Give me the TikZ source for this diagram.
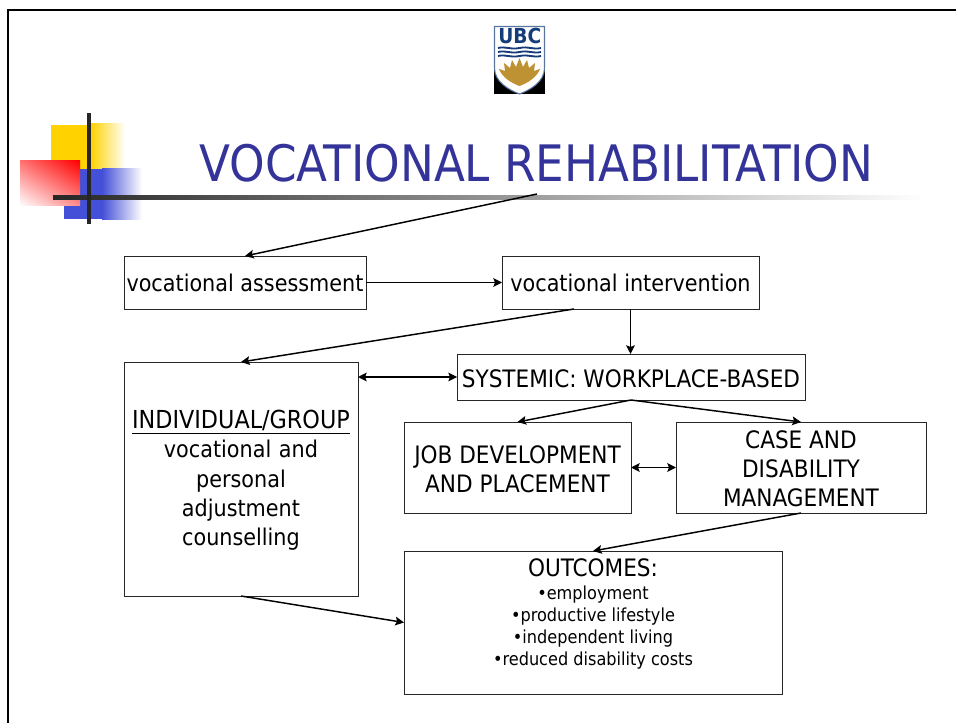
\documentclass[tikz,border=0pt]{standalone}
\usepackage{fontspec}
\setmainfont{DejaVu Sans Condensed}
\usepackage{xcolor}
\usetikzlibrary{arrows.meta,shadings}
\usetikzlibrary{positioning,calc}
\definecolor{titleblue}{RGB}{51,51,153}
\definecolor{decoyellow}{RGB}{255,210,0}
\definecolor{decoblue}{RGB}{68,80,216}
\definecolor{ubcblue}{RGB}{20,60,120}
\definecolor{ubcgold}{RGB}{190,145,50}
\newcommand{\capstrut}{\rule{0pt}{15.6pt}}

\begin{document}
\begin{tikzpicture}[
    x=.75pt,y=-.75pt,
    every node/.style = {outer sep=0pt,inner sep=0pt},
    box/.style = {draw=black!85,line width=.65pt,align=center,font=\fontsize{17.3}{21.6}\selectfont},
    capsbox/.style = {box,font=\fontsize{18}{21.6}\selectfont},
    link/.style = {-{Stealth[length=6.5pt,width=6.5pt,inset=1.2pt]},line width=1.1pt},
    twoway/.style = {{Stealth[length=6.5pt,width=6.5pt,inset=1.2pt]}-{Stealth[length=6.5pt,width=6.5pt,inset=1.2pt]},line width=1.1pt},
    smalltext/.style = {font=\fontsize{13.45}{16.5}\selectfont,align=center},
    ]
    \useasboundingbox (0,0) rectangle (956,723);
    % slide edge
    \draw[line width=1.5pt] (8,723) -- (8,10) -- (956,10);
    % corner squares
    \fill[decoyellow] (51,125) rectangle (91,170);
    \shade[left color=decoyellow,right color=white] (91,124) rectangle (125,170);
    \fill[decoblue] (64,169) rectangle (103,219);
    \shade[left color=decoblue,right color=white] (102,169) rectangle (142,220);
    \shade[shading=bilinear interpolation,lower left=white,upper right=red,lower right=red!45,upper left=red!55] (20,206) rectangle (80,161);
    \shade[left color=black!85,right color=white] (53,196) rectangle (925,200);
    \fill[black!85] (87,113) rectangle (91,224);
    % logo
    \fill[black] (494,70) rectangle (545,94);
    \draw[draw=ubcblue!70,fill=white,line width=.8pt] (494.5,26.5) -- (544.5,26.5) -- (544.5,68)
        .. controls (544.5,82) and (530,90) .. (519.5,94)
        .. controls (509,90) and (494.5,82) .. (494.5,68) -- cycle;
    \node (logotext) at (519.8,36) [text=ubcblue,font=\bfseries\fontsize{15.5}{15.5}\selectfont] {UBC};
    \foreach \wave in {48,52,56}
        \draw[ubcblue,line width=1.4pt] (498,\wave) .. controls (506,\wave-2) and (510,\wave+2) .. (519.5,\wave)
            .. controls (529,\wave-2) and (533,\wave+2) .. (541,\wave);
    \fill[ubcgold] (499,69) -- (505,71) -- (504,63) -- (510,68) -- (512,60) -- (516,67) -- (519.5,58)
        -- (523,67) -- (527,60) -- (529,68) -- (535,63) -- (534,71) -- (540,69)
        .. controls (537,77) and (528,83) .. (519.5,86)
        .. controls (511,83) and (502,77) .. (499,69) -- cycle;
    % title
    \node (title) [anchor=base,text=titleblue,font=\fontsize{37.7}{40}\selectfont] at (536.5,182) {VOCATIONAL REHABILITATION};
    \coordinate (rule-end) at (537,194);
    % boxes
    \node[box,minimum width=181.5pt,minimum height=39.75pt] (assess) at (245,282.5) {vocational assessment};
    \node[box,minimum width=192.75pt,minimum height=39.75pt] (interv) [right=102pt of assess] {vocational intervention};
    \node[box,minimum width=175.5pt,minimum height=175.5pt,text width=170pt,font=\fontsize{17.3}{21.9}\selectfont] (indiv) [below=39.75pt of assess.south west,anchor=north west] {\capstrut{\fontsize{18.6}{21.9}\selectfont\underline{INDIVIDUAL/GROUP\rule[-1.5pt]{0pt}{0pt}}}\\vocational and\\personal\\adjustment\\counselling};
    \node[capsbox,minimum width=261pt,minimum height=34.5pt] (systemic) [below=33.75pt of interv.south,xshift=.4pt] {\capstrut SYSTEMIC: WORKPLACE-BASED};
    \node[capsbox,minimum width=170.25pt,minimum height=68.25pt] (jobdev) at (517.5,467.5) {\capstrut JOB DEVELOPMENT\\AND PLACEMENT};
    \node[capsbox,minimum width=187.5pt,minimum height=68.25pt] (casemgmt) [right=33.75pt of jobdev] {\capstrut CASE AND\\DISABILITY\\MANAGEMENT};
    \node[capsbox,minimum width=283.5pt,minimum height=107.25pt] (outcomes) at (593,622.5) {};
    \node (outhead) [font=\fontsize{18}{21.6}\selectfont] at (593,568) {OUTCOMES:};
    \node[smalltext] (outlist) [below=6.75pt of outhead] {•employment\\•productive lifestyle\\•independent living\\•reduced disability costs};
    % connectors
    \draw[link] (rule-end) -- (assess.north);
    \draw[link] (assess) -- (interv);
    \draw[link] ([xshift=-42.4pt]interv.south) -- (indiv.north);
    \draw[link] (interv.south) -- (interv.south |- systemic.north);
    \draw[twoway] (indiv.east |- systemic.west) -- (systemic.west);
    \draw[link] (systemic.south) -- (jobdev.north);
    \draw[link] (systemic.south) -- (casemgmt.north);
    \draw[twoway] (jobdev) -- (casemgmt);
    \draw[link] (casemgmt.south) -- (outcomes.north);
    \draw[link] (indiv.south) -- (outcomes.west);
\end{tikzpicture}
\end{document}
